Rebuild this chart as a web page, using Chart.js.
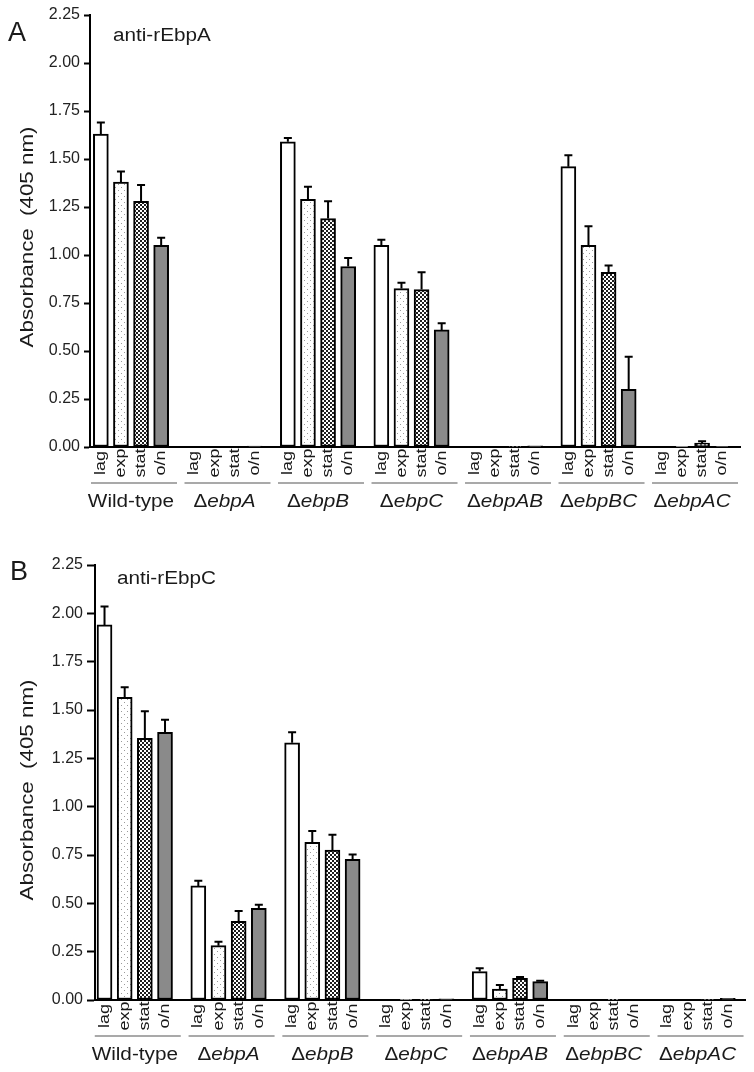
<!DOCTYPE html>
<html lang="en">
<head>
  <meta charset="UTF-8" />
  <title>anti-rEbpA / anti-rEbpC absorbance</title>
  <script src="https://cdn.jsdelivr.net/npm/chart.js@4"></script>
  <style>
    body {
      margin: 0;
      background: #fff;
      width: 754px;
      height: 1072px;
      position: relative;
      overflow: hidden;
    }
    .panel {
      position: absolute;
      left: 0;
      width: 754px;
      height: 536px;
    }
    #panelA { top: 0; }
    #panelB { top: 536px; }
  </style>
</head>
<body>
  <div class="panel" id="panelA"><canvas id="chartA" width="754" height="536"></canvas></div>
  <div class="panel" id="panelB"><canvas id="chartB" width="754" height="536"></canvas></div>

  <script>
    // strains (x groups) and growth phases (bars inside each group)
    const groups = ["Wild-type", "ΔebpA", "ΔebpB", "ΔebpC", "ΔebpAB", "ΔebpBC", "ΔebpAC"];
    const phases = ["lag", "exp", "stat", "o/n"];
    const yTicks = [0, 0.25, 0.5, 0.75, 1, 1.25, 1.5, 1.75, 2, 2.25];

    // panel A: anti-rEbpA
    const lagA  = [1.63, 0, 1.59, 1.05, 0, 1.46, 0];
    const expA  = [1.38, 0, 1.29, 0.825, 0, 1.05, 0.004];
    const statA = [1.28, 0, 1.19, 0.82, 0.003, 0.91, 0.02];
    const onA   = [1.05, 0.005, 0.94, 0.61, 0.006, 0.30, 0.004];
    const lagErrA  = [0.06, 0, 0.02, 0.03, 0, 0.06, 0];
    const expErrA  = [0.055, 0, 0.065, 0.03, 0, 0.10, 0];
    const statErrA = [0.085, 0, 0.09, 0.09, 0, 0.035, 0.01];
    const onErrA   = [0.04, 0, 0.045, 0.035, 0, 0.17, 0];

    // panel B: anti-rEbpC
    const lagB  = [1.94, 0.59, 1.33, 0, 0.147, 0, 0];
    const expB  = [1.566, 0.281, 0.816, 0.002, 0.057, 0, 0];
    const statB = [1.354, 0.407, 0.776, 0.004, 0.112, 0.002, 0.003];
    const onB   = [1.385, 0.474, 0.728, 0.006, 0.095, 0, 0.008];
    const lagErrB  = [0.095, 0.027, 0.055, 0, 0.017, 0, 0];
    const expErrB  = [0.052, 0.02, 0.058, 0, 0.021, 0, 0];
    const statErrB = [0.14, 0.053, 0.079, 0, 0.007, 0, 0];
    const onErrB   = [0.064, 0.019, 0.024, 0, 0.005, 0, 0];

    const FONT = '"Liberation Sans", Arial, sans-serif';
    const INK = "#1a1a1a";
    const STEP = 0.215; // spacing of bars inside a group, in group units

    function makePattern(kind) {
      const c = document.createElement("canvas");
      const x = c.getContext("2d");
      if (kind === "dots") {
        c.width = 6; c.height = 6;
        x.fillStyle = "#fff"; x.fillRect(0, 0, 6, 6);
        x.fillStyle = "#9a9a9a";
        x.fillRect(1, 1, 1, 1); x.fillRect(4, 4, 1, 1);
      } else {
        c.width = 4; c.height = 4;
        x.fillStyle = "#fff"; x.fillRect(0, 0, 4, 4);
        x.fillStyle = "#1e1e1e";
        x.fillRect(0, 0, 2, 2); x.fillRect(2, 2, 2, 2);
      }
      return document.createElement("canvas").getContext("2d").createPattern(c, "repeat");
    }

    const fills = ["#ffffff", makePattern("dots"), makePattern("check"), "#8a8a8a"];

    function stretched(ctx, txt, x, y, sx, rot) {
      ctx.save();
      ctx.translate(x, y);
      if (rot) ctx.rotate(rot);
      ctx.scale(sx, 1);
      ctx.fillText(txt, 0, 0);
      ctx.restore();
    }

    function groupName(ctx, name, cx, y) {
      const sx = 1.15;
      const upright = "18px " + FONT, italic = "italic 18px " + FONT;
      let pre = "", rest = name;
      if (name.startsWith("Δ")) { pre = "Δ"; rest = name.slice(1); }
      ctx.save();
      ctx.font = upright;
      const w1 = ctx.measureText(pre).width;
      ctx.font = pre ? italic : upright;
      const w2 = ctx.measureText(rest).width;
      ctx.translate(cx - (w1 + w2) * sx / 2, y);
      ctx.scale(sx, 1);
      ctx.textAlign = "left";
      ctx.textBaseline = "alphabetic";
      ctx.font = upright;
      ctx.fillText(pre, 0, 0);
      ctx.font = pre ? italic : upright;
      ctx.fillText(rest, w1, 0);
      ctx.restore();
    }

    const panelDeco = {
      id: "panelDeco",
      afterDatasetsDraw(chart) {
        // upper error whiskers
        const { ctx } = chart;
        const y = chart.scales.y;
        ctx.save();
        ctx.strokeStyle = "#000";
        ctx.lineWidth = 2;
        chart.data.datasets.forEach((ds, i) => {
          const meta = chart.getDatasetMeta(i);
          meta.data.forEach((bar, j) => {
            const e = ds.errors[j];
            if (!e) return;
            const top = y.getPixelForValue(ds.data[j].y + e);
            ctx.beginPath();
            ctx.moveTo(bar.x, bar.y);
            ctx.lineTo(bar.x, top);
            ctx.moveTo(bar.x - 4, top);
            ctx.lineTo(bar.x + 4, top);
            ctx.stroke();
          });
        });
        ctx.restore();
      },
      afterDraw(chart, args, opts) {
        const { ctx, chartArea } = chart;
        const x = chart.scales.x;
        const base = chartArea.bottom;
        ctx.save();
        ctx.fillStyle = INK;

        groups.forEach((g, gi) => {
          // phase labels, rotated
          ctx.font = "15px " + FONT;
          ctx.textAlign = "center";
          ctx.textBaseline = "middle";
          phases.forEach((p, b) => {
            const px = x.getPixelForValue(gi + (b - 1.5) * STEP);
            stretched(ctx, p, px, base + 16, 1.2, -Math.PI / 2);
          });
          const cx = x.getPixelForValue(gi);
          ctx.strokeStyle = "#8c8c8c";
          ctx.lineWidth = 1.5;
          ctx.beginPath();
          ctx.moveTo(cx - 40, base + 36);
          ctx.lineTo(cx + 46, base + 36);
          ctx.stroke();
          groupName(ctx, g, cx, base + 60);
        });

        // y axis title
        ctx.font = "18px " + FONT;
        ctx.textAlign = "center";
        ctx.textBaseline = "alphabetic";
        stretched(ctx, "Absorbance  (405 nm)", 33, opts.titleY, 1.24, -Math.PI / 2);

        // panel letter and antibody
        ctx.textAlign = "left";
        ctx.font = "27px " + FONT;
        ctx.fillText(opts.letter, opts.letterX, opts.letterY);
        ctx.font = "18px " + FONT;
        stretched(ctx, opts.antibody, opts.abX, opts.abY, 1.15);
        ctx.restore();
      }
    };

    function buildChart(id, series, errors, lay) {
      const datasets = phases.map((p, b) => ({
        label: p,
        data: series[b].map((v, g) => ({ x: g + (b - 1.5) * STEP, y: v })),
        errors: errors[b],
        backgroundColor: fills[b],
        borderColor: "#000",
        borderWidth: 2,
        borderSkipped: false,
        barThickness: 15,
        grouped: false
      }));

      return new Chart(document.getElementById(id), {
        type: "bar",
        data: { datasets },
        plugins: [panelDeco],
        options: {
          responsive: false,
          animation: false,
          devicePixelRatio: 1,
          layout: { padding: { left: 0, right: lay.right, top: lay.top, bottom: 0 } },
          plugins: {
            legend: { display: false },
            tooltip: { enabled: false },
            panelDeco: lay.deco
          },
          scales: {
            x: {
              type: "linear",
              min: lay.xMin,
              max: lay.xMax,
              offset: false,
              grid: { display: false, drawTicks: false },
              ticks: { display: false },
              border: { color: "#000", width: 2 },
              afterFit: s => { s.height = lay.bottom; }
            },
            y: {
              min: 0,
              max: 2.25,
              afterBuildTicks: s => { s.ticks = yTicks.map(v => ({ value: v })); },
              ticks: {
                callback: v => Number(v).toFixed(2),
                color: "#222",
                font: { family: FONT, size: 16 },
                padding: lay.tickPad
              },
              grid: {
                drawOnChartArea: false,
                drawTicks: true,
                tickLength: lay.tickLen,
                tickColor: "#000",
                tickWidth: 2
              },
              border: { color: "#000", width: 2 },
              afterFit: s => { s.width = lay.left; }
            }
          }
        }
      });
    }

    buildChart("chartA",
      [lagA, expA, statA, onA],
      [lagErrA, expErrA, statErrA, onErrA],
      {
        left: 90, right: 14, top: 15, bottom: 89,
        xMin: -0.4385, xMax: 6.513, tickLen: 6, tickPad: 4,
        deco: { letter: "A", letterX: 8, letterY: 41, antibody: "anti-rEbpA", abX: 113, abY: 41, titleY: 237 }
      });

    buildChart("chartB",
      [lagB, expB, statB, onB],
      [lagErrB, expErrB, statErrB, onErrB],
      {
        left: 95, right: 9, top: 29, bottom: 72,
        xMin: -0.424, xMax: 6.506, tickLen: 8, tickPad: 4,
        deco: { letter: "B", letterX: 10, letterY: 44, antibody: "anti-rEbpC", abX: 117, abY: 48, titleY: 254 }
      });
  </script>
</body>
</html>
